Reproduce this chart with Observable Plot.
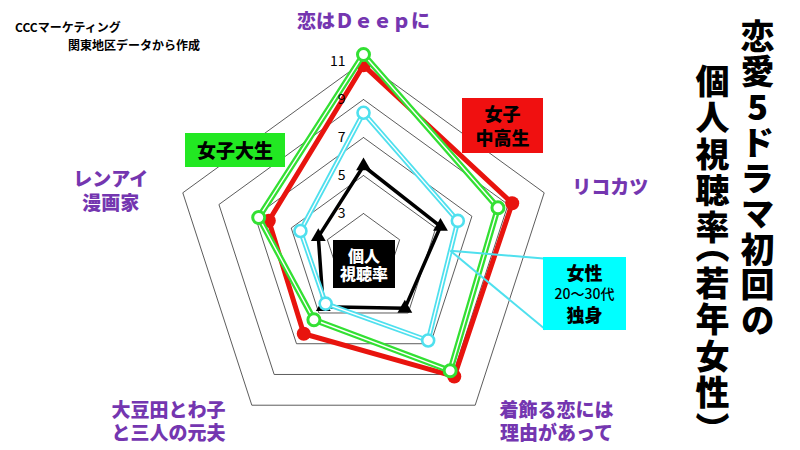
<!DOCTYPE html>
<html><head><meta charset="utf-8">
<script src="https://cdn.jsdelivr.net/npm/d3@7"></script>
<script src="https://cdn.jsdelivr.net/npm/@observablehq/plot@0.6"></script>
<style>
body{margin:0;background:#fff;}
#wrap{position:relative;width:800px;height:450px;overflow:hidden;background:#fff;font-family:"Noto Sans CJK JP","Noto Sans",sans-serif;}
#wrap svg{position:absolute;left:0;top:0;}
.box{position:absolute;display:flex;flex-direction:column;align-items:center;justify-content:center;font-weight:900;color:#000;line-height:1.3;box-sizing:border-box;}
.vt{position:absolute;writing-mode:vertical-rl;text-orientation:upright;font-weight:900;font-size:34px;line-height:1;letter-spacing:2.5px;color:#000;}
.src{position:absolute;font-size:12px;font-weight:700;color:#000;white-space:nowrap;line-height:1;}
</style></head><body><div id="wrap"></div>
<script>
// ---- data ----
const categories = ["恋はＤｅｅｐに", "リコカツ", "着飾る恋には\n理由があって", "大豆田とわ子\nと三人の元夫", "レンアイ\n漫画家"];
const ticks = [3, 5, 7, 9, 11];
const gridLevels = [3, 5, 7, 9, 11];
const rMin = 1;
const seriesNames = ["女子中高生", "女子大生", "女性20～30代独身", "個人視聴率"];
const jcVals = [10.8, 9.23, 9.13, 6.35, 6.24];      // 女子中高生
const jdVals = [11.37, 8.44, 8.76, 5.44, 6.8];      // 女子大生
const singleVals = [8.3, 6.22, 6.79, 4.39, 4.49];   // 女性20～30代独身
const indivVals = [5.5, 5.26, 4.7, 4.6, 3.5];       // 個人視聴率

// ---- layout ----
const W = 800, H = 450, CX = 363, CY = 251, PX = 19;
const labelR = 12;
const labelOffsets = [[0, -3], [30, 5], [59, -15], [-61, -15], [-36, 9]];
const calloutBox = {left: 543, top: 257, w: 83, h: 73};

const ang = i => i * 2 * Math.PI / categories.length;
const pt = (i, v) => ({x: (v - rMin) * Math.sin(ang(i)), y: (v - rMin) * Math.cos(ang(i))});
const ring = (vals, name) => vals.map((v, i) => ({...pt(i, v), name, cat: categories[i], v}));
const closed = rows => rows.concat([rows[0]]);
const pxToX = px => (px - CX) / PX;
const pxToY = py => (CY - py) / PX;

const jc = ring(jcVals, seriesNames[0]);
const jd = ring(jdVals, seriesNames[1]);
const sg = ring(singleVals, seriesNames[2]);
const iv = ring(indivVals, seriesNames[3]);

const grid = gridLevels.flatMap(L => closed(categories.map((c, i) => ({...pt(i, L), level: L}))));

const labels = categories.map((c, i) => {
  const p = pt(i, labelR + rMin);
  return {x: p.x + labelOffsets[i][0] / PX, y: p.y - labelOffsets[i][1] / PX, text: c};
});

// callout anchor on the 女性 line between リコカツ and 着飾る
const t = 0.25;
const anchor = {x: sg[1].x + (sg[2].x - sg[1].x) * t, y: sg[1].y + (sg[2].y - sg[1].y) * t};
const callout = [
  {x1: anchor.x, y1: anchor.y, x2: pxToX(calloutBox.left), y2: pxToY(calloutBox.top + 1)},
  {x1: anchor.x, y1: anchor.y, x2: pxToX(calloutBox.left + 2), y2: pxToY(calloutBox.top + calloutBox.h - 1)}
];

const RED = "#e8140e", GREEN = "#33e033", CYAN = "#4fe0ee", PURPLE = "#7436b0";

const chart = Plot.plot({
  width: W, height: H,
  marginTop: 0, marginRight: 0, marginBottom: 0, marginLeft: 0,
  x: {domain: [pxToX(0), pxToX(W)], axis: null},
  y: {domain: [pxToY(H), pxToY(0)], axis: null},
  style: {background: "transparent", fontFamily: "'Noto Sans CJK JP', sans-serif"},
  marks: [
    Plot.line(grid, {x: "x", y: "y", z: "level", stroke: "#4a4a4a", strokeWidth: 0.9}),
    // 女子中高生
    Plot.line(closed(jc), {x: "x", y: "y", stroke: RED, strokeWidth: 5, strokeLinejoin: "round"}),
    Plot.dot(jc, {x: "x", y: "y", r: 7, fill: RED}),
    // 女子大生
    Plot.line(closed(jd), {x: "x", y: "y", stroke: GREEN, strokeWidth: 6, strokeLinejoin: "round"}),
    Plot.line(closed(jd), {x: "x", y: "y", stroke: "#fff", strokeWidth: 1.4, strokeLinejoin: "round"}),
    Plot.dot(jd, {x: "x", y: "y", r: 6, fill: "#fff", stroke: GREEN, strokeWidth: 3}),
    // 個人視聴率
    Plot.line(closed(iv), {x: "x", y: "y", stroke: "#000", strokeWidth: 3.5, strokeLinejoin: "miter"}),
    Plot.dot(iv, {x: "x", y: "y", r: 5.5, symbol: "triangle", fill: "#000"}),
    // 女性20～30代独身
    Plot.line(closed(sg), {x: "x", y: "y", stroke: CYAN, strokeWidth: 5, strokeLinejoin: "round"}),
    Plot.line(closed(sg), {x: "x", y: "y", stroke: "#fff", strokeWidth: 1.4, strokeLinejoin: "round"}),
    Plot.dot(sg, {x: "x", y: "y", r: 6, fill: "#fff", stroke: CYAN, strokeWidth: 2.6}),
    // radial tick labels on top of the lines
    Plot.text(ticks, {x: 0, y: d => d - rMin, text: d => String(d), textAnchor: "end", dx: -18, fontSize: 14, fill: "#000"}),
    // callout
    Plot.link(callout, {x1: "x1", y1: "y1", x2: "x2", y2: "y2", stroke: CYAN, strokeWidth: 2}),
    // category labels
    Plot.text(labels, {x: "x", y: "y", text: "text", fill: PURPLE, fontSize: 19, fontWeight: 900, lineHeight: 1.25})
  ]
});

const wrap = document.getElementById("wrap");
wrap.appendChild(chart);

function addBox(html, left, top, w, h, bg, color, extra) {
  const d = document.createElement("div");
  d.className = "box";
  Object.assign(d.style, {left: left + "px", top: top + "px", width: w + "px", height: h + "px", background: bg, color: color}, extra || {});
  d.innerHTML = html;
  wrap.appendChild(d);
}
addBox('<div style="font-size:18px">女子</div><div style="font-size:18px">中高生</div>', 462, 98, 81, 55, "#f01010", "#000", {lineHeight: "1.3"});
addBox('<div style="font-size:19px">女子大生</div>', 185, 133, 100, 34, "#22e822", "#000");
addBox('<div style="font-size:18px;line-height:1.2">女性</div><div style="font-size:14px;font-weight:500;line-height:1.45">20～30代</div><div style="font-size:18px;line-height:1.2">独身</div>', calloutBox.left, calloutBox.top, calloutBox.w, calloutBox.h, "#00ffff", "#000");
addBox('<div style="font-size:16px;line-height:1.15">個人</div><div style="font-size:16px;line-height:1.15">視聴率</div>', 333, 240, 62, 48, "#000", "#fff");

function addSrc(text, left, top) {
  const d = document.createElement("div");
  d.className = "src";
  d.style.left = left + "px"; d.style.top = top + "px";
  d.textContent = text;
  wrap.appendChild(d);
}
addSrc("CCCマーケティング", 15, 21);
addSrc("関東地区データから作成", 68, 39);

function addVt(html, centerX, top, spacing) {
  const d = document.createElement("div");
  d.className = "vt";
  d.style.left = (centerX - 17) + "px"; d.style.top = top + "px";
  d.style.letterSpacing = spacing + "px";
  d.innerHTML = html;
  wrap.appendChild(d);
}
addVt("恋愛5ドラマ初回の", 757, 19, 1.5);
addVt('個人視聴率<span style="font-feature-settings:\'vhal\'">（</span>若年女性<span style="font-feature-settings:\'vhal\'">）</span>', 712, 64, 2.5);
</script>
</body></html>
